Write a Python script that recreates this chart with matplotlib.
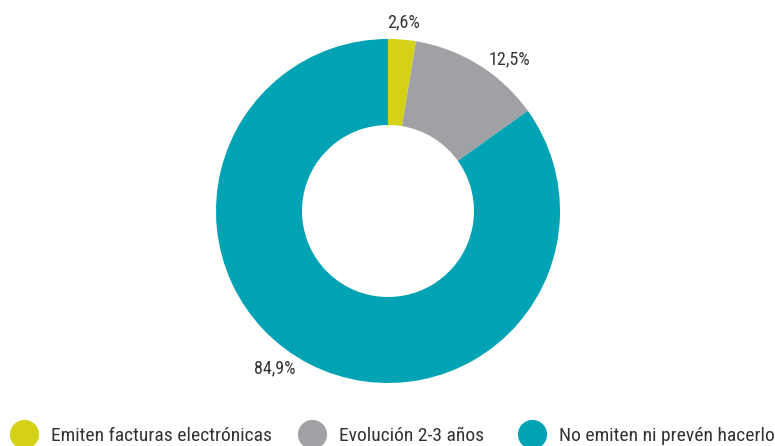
import matplotlib
matplotlib.use("Agg")
import matplotlib.pyplot as plt
from matplotlib.lines import Line2D

categories = ["Emiten facturas electrónicas", "Evolución 2-3 años", "No emiten ni prevén hacerlo"]
values = [2.6, 12.5, 84.9]
labels = ["2,6%", "12,5%", "84,9%"]
colors = ["#d4d116", "#a0a1a4", "#00a3b3"]

# layout (pixel units of the figure, y measured from the bottom)
label_pos = [(403, 424), (509, 387), (275, 78)]
legend_x = [24, 312, 532]   # centres of the legend circles

plt.rcParams['font.family'] = ["Roboto Condensed", 'DejaVu Sans']

W, H = 775, 446
fig = plt.figure(figsize=(W / 100, H / 100), dpi=100)
ax = fig.add_axes([0, 0, 1, 1])

wedges, texts = ax.pie(values, colors=colors, labels=labels, startangle=90, counterclock=False,
                       center=(388, 235), radius=172,
                       wedgeprops=dict(width=86, linewidth=0),
                       textprops=dict(fontsize=13, color="#333333"))
for t, p in zip(texts, label_pos):
    t.set_position(p)
    t.set_ha('center')
    t.set_va('center')
ax.set_xlim(0, W)
ax.set_ylim(0, H)
ax.set_aspect('equal')
ax.axis('off')

fs = 14
hl = 1.5
half_handle_px = hl * fs * 100 / 72 / 2
for cat, col, cx in zip(categories, colors, legend_x):
    h = Line2D([], [], marker='o', linestyle='none', markersize=21, markerfacecolor=col,
               markeredgewidth=0)
    leg = fig.legend([h], [cat], loc='center left',
                     bbox_to_anchor=((cx - half_handle_px) / W, 10 / H),
                     frameon=False, fontsize=fs, handletextpad=0.64, handlelength=hl,
                     borderaxespad=0, borderpad=0)
    for t in leg.get_texts():
        t.set_color("#333333")

fig.savefig("out.png", dpi=100)
